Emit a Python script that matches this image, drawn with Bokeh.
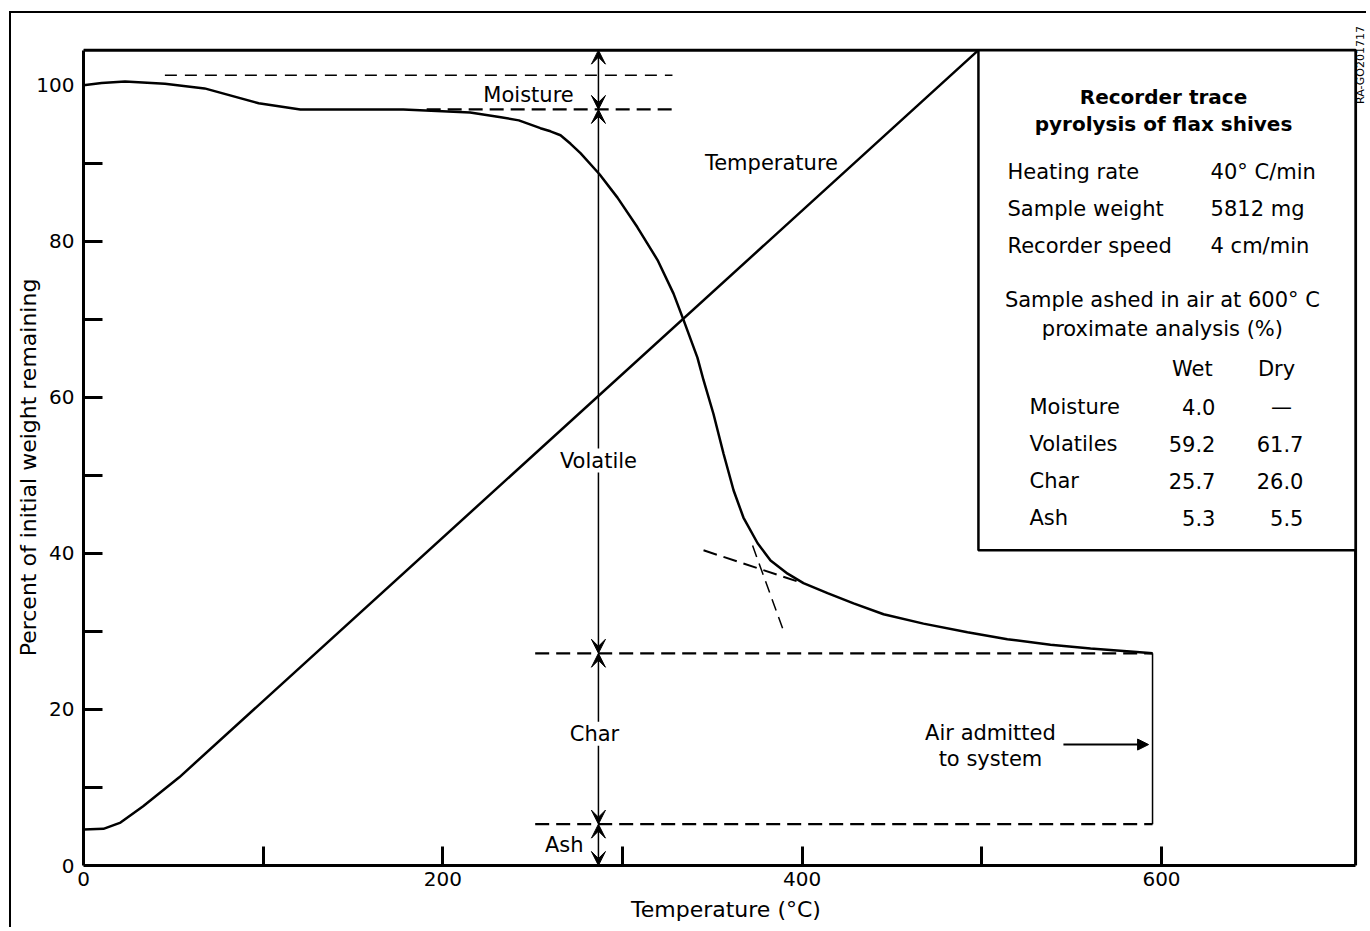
import numpy as np
from bokeh.plotting import figure
from bokeh.models import FixedTicker, Label, Arrow, VeeHead, NormalHead, Range1d
from bokeh.embed import file_html
from bokeh.resources import INLINE

# ---------------- data ----------------
weight_T = [0, 10.1, 23.1, 45.3, 67.4, 97.5, 120.7, 178, 215.2, 232.3, 242.3, 254.3,
            259.9, 265.5, 271.1, 276.6, 287.2, 297.2, 308.3, 319.5, 328.4, 334, 341.7,
            345.1, 350.6, 356.2, 361.8, 367.3, 375.2, 382.4, 391.9, 400.7, 414.1,
            428.6, 445.3, 467.5, 492, 514.2, 538.2, 560.5, 584.4, 595]
weight_pct = [100, 100.3, 100.5, 100.2, 99.6, 97.7, 96.9, 96.9, 96.5, 95.9, 95.5, 94.5,
              94.1, 93.6, 92.5, 91.3, 88.6, 85.6, 81.8, 77.6, 73.3, 69.9, 65.1,
              62.2, 57.9, 52.8, 48.1, 44.6, 41.3, 39.1, 37.4, 36.2, 34.9,
              33.6, 32.2, 31.0, 29.9, 29.0, 28.3, 27.8, 27.4, 27.2]

temp_T = [0, 11.1, 20.6, 33.2, 53.3, 498.1]
temp_pct = [4.6, 4.7, 5.5, 7.6, 11.3, 104.5]

initial_level = 101.3
dry_level = 96.9
char_level = 27.2
ash_level = 5.3
marker_T = 286.6
air_T = 595

tangent1_T = [345.1, 400.2]
tangent1_pct = [40.4, 36.2]
tangent2_T = [372.4, 390.2]
tangent2_pct = [41.0, 29.7]

x_label_ticks = [0, 200, 400, 600]
x_mark_ticks = [100, 200, 300, 400, 500, 600]
y_label_ticks = [0, 20, 40, 60, 80, 100]
y_mark_ticks = [10, 20, 30, 40, 50, 60, 70, 80, 90]

info_names = ["Heating  rate", "Sample  weight", "Recorder  speed"]
info_values = ["40\u00b0 C/min", "5812  mg", "4  cm/min"]
table_rows = ["Moisture", "Volatiles", "Char", "Ash"]
table_wet = ["4.0", "59.2", "25.7", "5.3"]
table_dry = ["\u2014", "61.7", "26.0", "5.5"]
figure_code = "RA-GO201717"

BOX_T = 708      # right edge of the drawn plot box
BOX_W = 104.5    # top edge of the drawn plot box
FONT = "DejaVu Sans"

p = figure(width=1357, height=916, output_backend="svg", toolbar_location=None,
           x_range=Range1d(0, 715.2), y_range=Range1d(0, 109.2),
           min_border_left=72, min_border_right=0, min_border_top=0,
           min_border_bottom=64)
p.styles = {"margin-left": "9px", "margin-top": "11px",
            "border-top": "2px solid black", "border-left": "2px solid black"}
p.grid.visible = False
p.outline_line_color = None
p.background_fill_color = "white"
p.border_fill_color = "white"

for ax in (p.xaxis[0], p.yaxis[0]):
    ax.axis_line_width = 3
    ax.axis_line_color = "black"
    ax.major_tick_in = 0
    ax.major_tick_out = 0
    ax.minor_tick_in = 19
    ax.minor_tick_out = 0
    ax.minor_tick_line_width = 3
    ax.minor_tick_line_color = "black"
    ax.major_label_text_font = FONT
    ax.major_label_text_font_size = "20px"
    ax.major_label_text_color = "black"
    ax.axis_label_text_font = FONT
    ax.axis_label_text_font_size = "22px"
    ax.axis_label_text_font_style = "normal"
    ax.axis_label_text_color = "black"

p.xaxis.ticker = FixedTicker(ticks=x_label_ticks, minor_ticks=x_mark_ticks)
p.yaxis.ticker = FixedTicker(ticks=y_label_ticks, minor_ticks=y_mark_ticks)
p.xaxis.bounds = (0, BOX_T)
p.yaxis.bounds = (0, BOX_W)
p.xaxis.axis_label = "Temperature (\u00b0C)"
p.xaxis.major_label_standoff = 6
p.xaxis.axis_label_standoff = 8
# trailing no-break spaces centre the visible title on the drawn plot box
p.yaxis.axis_label = "Percent of initial weight remaining" + "\u00a0" * 8
p.yaxis.major_label_standoff = 9
p.yaxis.axis_label_standoff = -8

# plot box (top and right sides; left/bottom coincide with the axes)
p.quad(left=0, right=BOX_T, bottom=0, top=BOX_W, fill_color=None,
       line_color="black", line_width=3)

# curves
p.line(weight_T, weight_pct, line_color="black", line_width=2.5)
p.line(temp_T, temp_pct, line_color="black", line_width=2.5)

# air admitted drop
p.line([air_T, air_T], [char_level, ash_level], line_color="black", line_width=1.5)

# dashed reference levels
p.line([45.3, 327.8], [initial_level, initial_level], line_color="black", line_width=1.5, line_dash="12 8")
p.line([191, 327.8], [dry_level, dry_level], line_color="black", line_width=2.2, line_dash="14 7")
p.line([251.4, air_T], [char_level, char_level], line_color="black", line_width=2.2, line_dash="14 7")
p.line([251.4, air_T], [ash_level, ash_level], line_color="black", line_width=2.2, line_dash="14 7")
p.line(tangent1_T, tangent1_pct, line_color="black", line_width=2, line_dash="14 7")
p.line(tangent2_T, tangent2_pct, line_color="black", line_width=1.5, line_dash="12 7")

# legend box
p.quad(left=498.1, right=BOX_T, top=BOX_W, bottom=40.4, fill_color="white",
       line_color="black", line_width=2.5)

# vertical double arrows
levels = [BOX_W, dry_level, char_level, ash_level, 0]
for a, b in zip(levels[:-1], levels[1:]):
    p.add_layout(Arrow(start=VeeHead(size=14, fill_color="black", line_color="black"),
                       end=VeeHead(size=14, fill_color="black", line_color="black"),
                       x_start=marker_T, y_start=a, x_end=marker_T, y_end=b,
                       line_width=1.5, line_color="black"))

def lab(x, y, text, size="21px", align="center", style="normal", bg=None, angle=0):
    l = Label(x=x, y=y, text=text, text_font=FONT, text_font_size=size,
              text_align=align, text_baseline="middle", text_font_style=style,
              text_color="black", angle=angle)
    if bg is not None:
        l.background_fill_color = bg
    p.add_layout(l)

lab(247.7, 98.8, "Moisture")
lab(marker_T, 51.9, "Volatile", bg="white")
lab(284.4, 16.9, "Char", bg="white")
lab(278.3, 2.6, "Ash", align="right", bg="white")
lab(382.9, 90.1, "Temperature")
lab(504.8, 17.0, "Air admitted")
lab(504.8, 13.7, "to system")
p.add_layout(Arrow(end=NormalHead(size=11, fill_color="black", line_color="black"),
                   x_start=545.4, y_start=15.5, x_end=592.8, y_end=15.5,
                   line_width=2, line_color="black"))

# legend texts
lab(601.1, 98.46, "Recorder trace", size="20px", style="bold")
lab(601.1, 95.0, "pyrolysis of flax shives", size="20px", style="bold")
info_y = [88.85, 84.1, 79.36]
for name, val, yy in zip(info_names, info_values, info_y):
    lab(514.3, yy, name, align="left")
    lab(627.3, yy, val, align="left")
lab(600.5, 72.44, "Sample ashed in air at 600\u00b0 C")
lab(600.5, 68.72, "proximate analysis (%)")
lab(617.2, 63.59, "Wet")
lab(664.0, 63.59, "Dry")
row_y = [58.72, 53.97, 49.23, 44.49]
for name, w, d, yy in zip(table_rows, table_wet, table_dry, row_y):
    lab(526.5, yy, name, align="left")
    lab(630.0, yy, w, align="right")
    if d == "\u2014":
        lab(666.8, yy, d)
    else:
        lab(679.0, yy, d, align="right")

# figure code along the right edge
lab(711.0, 102.6, figure_code, size="11px", angle=np.pi / 2)

open("out.html", "w").write(file_html(p, INLINE))
